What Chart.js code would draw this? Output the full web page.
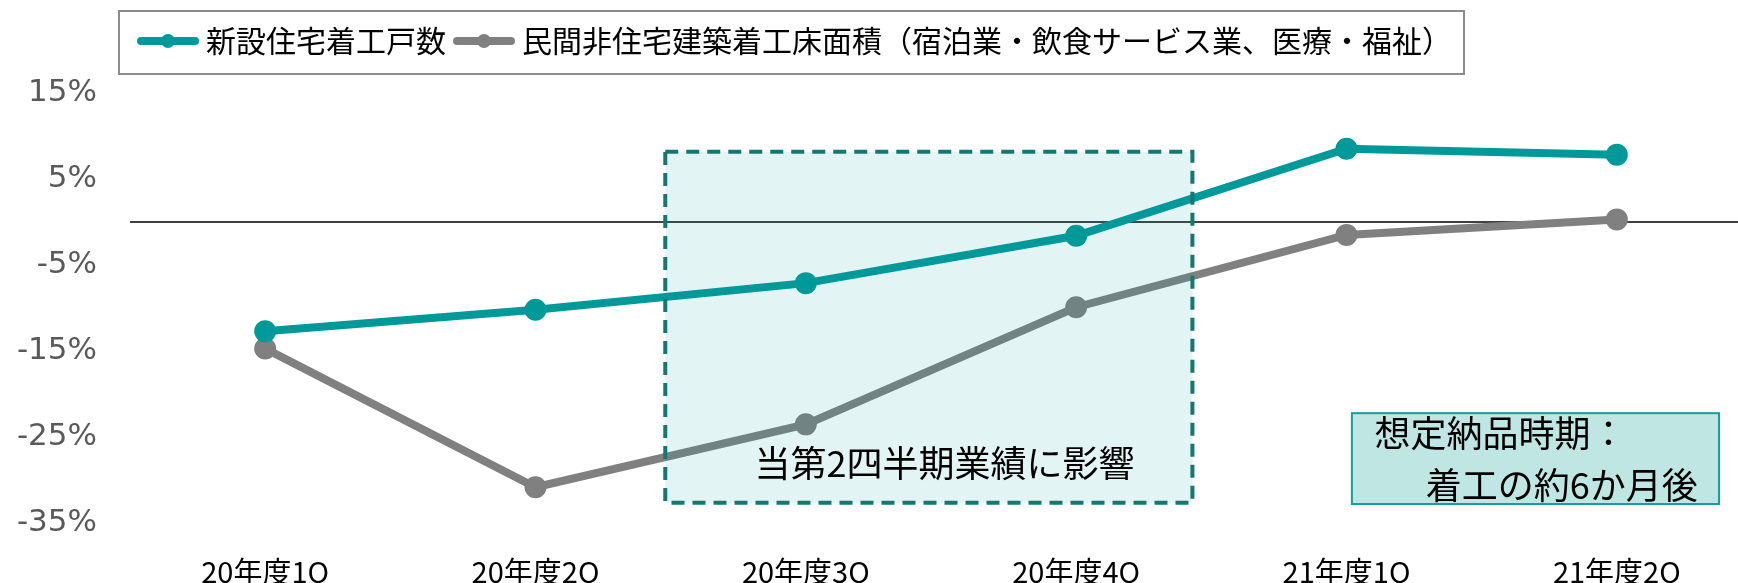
<!DOCTYPE html>
<html lang="ja">
<head>
<meta charset="utf-8">
<script src="https://cdn.jsdelivr.net/npm/chart.js@4/dist/chart.umd.min.js"></script>
<style>
  html, body { margin: 0; background: #fff; overflow: hidden; }
  /* plot area runs a little past the right edge of the window, as in the reference */
  .wrap { position: absolute; left: 0; top: 0; width: 1767px; height: 583px; }
</style>
</head>
<body>
<div class="wrap"><canvas id="chart"></canvas></div>
<script>
// data (year-on-year change, %)
const quarters = ["20年度1Q", "20年度2Q", "20年度3Q", "20年度4Q", "21年度1Q", "21年度2Q"];
const housingLabel = "新設住宅着工戸数";
const housingStarts = [-12.7, -10.2, -7.1, -1.6, 8.5, 7.8];
const nonResLabel = "民間非住宅建築着工床面積（宿泊業・飲食サービス業、医療・福祉）";
const nonResFloorArea = [-14.7, -30.8, -23.5, -9.9, -1.5, 0.3];

const yMin = -35;
const yMax = 15;
const yStep = 10;

// annotation boxes, in axis units: [xFrom, xTo, yTop, yBottom]
const impactBox = [1.48, 3.43, 8.15, -32.6];
const impactText = "当第2四半期業績に影響";
const impactTextAt = [2.513, -28.0];
const deliveryBox = [4.02, 5.378, -22.2, -32.75];
const deliveryLines = ["想定納品時期：", "着工の約6か月後"];
const deliveryLinesAt = [[4.104, -24.5], [4.293, -30.6]];

const teal = "rgb(0,153,153)";
const grey = "rgb(128,128,128)";
const jpFont = "'Noto Sans CJK JP', 'Noto Sans', sans-serif";

// legend marker: short thick line with a dot in the middle
function makeMarker(color) {
  const c = document.createElement("canvas");
  c.width = 62;
  c.height = 18;
  const g = c.getContext("2d");
  g.strokeStyle = color;
  g.lineWidth = 8;
  g.lineCap = "round";
  g.beginPath();
  g.moveTo(4, 9);
  g.lineTo(58, 9);
  g.stroke();
  g.fillStyle = color;
  g.beginPath();
  g.arc(31, 9, 7, 0, Math.PI * 2);
  g.fill();
  return c;
}
const markers = [makeMarker(teal), makeMarker(grey)];

// black line at 0%
const zeroLine = {
  id: "zeroLine",
  beforeDatasetsDraw(chart) {
    const { ctx, chartArea, scales } = chart;
    const y = scales.y.getPixelForValue(0);
    ctx.save();
    ctx.strokeStyle = "#000";
    ctx.lineWidth = 1.5;
    ctx.beginPath();
    ctx.moveTo(chartArea.left, y);
    ctx.lineTo(chartArea.right, y);
    ctx.stroke();
    ctx.restore();
  },
};

// shaded boxes + their texts, drawn over the lines
const notes = {
  id: "notes",
  afterDatasetsDraw(chart) {
    const { ctx, scales } = chart;
    const x = scales.x;
    const y = scales.y;
    ctx.save();

    // dashed box
    let l = x.getPixelForValue(impactBox[0]);
    let r = x.getPixelForValue(impactBox[1]);
    let t = y.getPixelForValue(impactBox[2]);
    let b = y.getPixelForValue(impactBox[3]);
    ctx.fillStyle = "rgba(0,153,153,0.11)";
    ctx.fillRect(l, t, r - l, b - t);
    ctx.setLineDash([13, 8]);
    ctx.lineWidth = 4;
    ctx.strokeStyle = "rgb(20,120,112)";
    ctx.strokeRect(l, t, r - l, b - t);
    ctx.setLineDash([]);
    ctx.fillStyle = "#000";
    ctx.font = "36px " + jpFont;
    ctx.textAlign = "center";
    ctx.textBaseline = "middle";
    ctx.fillText(impactText, x.getPixelForValue(impactTextAt[0]), y.getPixelForValue(impactTextAt[1]));

    // delivery box
    l = x.getPixelForValue(deliveryBox[0]);
    r = x.getPixelForValue(deliveryBox[1]);
    t = y.getPixelForValue(deliveryBox[2]);
    b = y.getPixelForValue(deliveryBox[3]);
    ctx.fillStyle = "rgb(192,230,228)";
    ctx.fillRect(l, t, r - l, b - t);
    ctx.lineWidth = 2;
    ctx.strokeStyle = "rgb(20,160,154)";
    ctx.strokeRect(l, t, r - l, b - t);
    ctx.fillStyle = "#000";
    ctx.textAlign = "left";
    deliveryLines.forEach((line, i) => {
      ctx.fillText(line, x.getPixelForValue(deliveryLinesAt[i][0]), y.getPixelForValue(deliveryLinesAt[i][1]));
    });
    ctx.restore();
  },
};

// grey frame round the legend
const legendFrame = {
  id: "legendFrame",
  afterDraw(chart) {
    const lg = chart.legend;
    if (!lg || !lg.legendHitBoxes.length) return;
    const first = lg.legendHitBoxes[0];
    const last = lg.legendHitBoxes[lg.legendHitBoxes.length - 1];
    const { ctx } = chart;
    ctx.save();
    ctx.strokeStyle = "rgb(140,140,140)";
    ctx.lineWidth = 2;
    ctx.strokeRect(first.left - 26, lg.top, last.left + last.width + 12 - (first.left - 26), 63);
    ctx.restore();
  },
};

const ctx = document.querySelector("#chart");

new Chart(ctx, {
  type: "line",
  data: {
    labels: quarters,
    datasets: [
      {
        label: housingLabel,
        data: housingStarts,
        borderColor: teal,
        backgroundColor: teal,
        borderWidth: 8,
        pointRadius: 7,
        pointHoverRadius: 7,
      },
      {
        label: nonResLabel,
        data: nonResFloorArea,
        borderColor: grey,
        backgroundColor: grey,
        borderWidth: 8,
        pointRadius: 7,
        pointHoverRadius: 7,
      },
    ],
  },
  options: {
    responsive: true,
    maintainAspectRatio: false,
    animation: false,
    devicePixelRatio: 1,
    layout: { padding: { top: 11, right: 0, left: 0, bottom: 0 } },
    scales: {
      x: {
        offset: true,
        grid: { display: false, drawTicks: false },
        border: { display: false },
        ticks: { color: "#000", padding: 31, font: { family: jpFont, size: 29 } },
        afterFit: (scale) => {
          scale.height = 59.6;
          scale.paddingLeft = 0;
          scale.paddingRight = 0;
        },
      },
      y: {
        min: yMin,
        max: yMax,
        grid: { display: false, drawTicks: false },
        border: { display: false },
        ticks: {
          stepSize: yStep,
          padding: 33,
          color: "#595959",
          font: { family: "'DejaVu Sans', Verdana, sans-serif", size: 31 },
          callback: (v) => v + "%",
        },
        afterFit: (scale) => {
          scale.width = 130;
        },
      },
    },
    plugins: {
      // empty spacer between legend and plot area
      title: { display: true, text: "", weight: 500, padding: { top: 0, bottom: 6.4 }, font: { size: 17 } },
      tooltip: { enabled: false },
      legend: {
        position: "top",
        align: "start",
        fullSize: false,
        labels: {
          color: "#000",
          padding: 15,
          usePointStyle: true,
          pointStyleWidth: 46,
          font: { family: jpFont, size: 30 },
          generateLabels(chart) {
            const items = Chart.defaults.plugins.legend.labels.generateLabels(chart);
            items.forEach((item, i) => {
              item.pointStyle = markers[i];
            });
            return items;
          },
        },
      },
    },
  },
  plugins: [zeroLine, notes, legendFrame],
});
</script>
</body>
</html>
